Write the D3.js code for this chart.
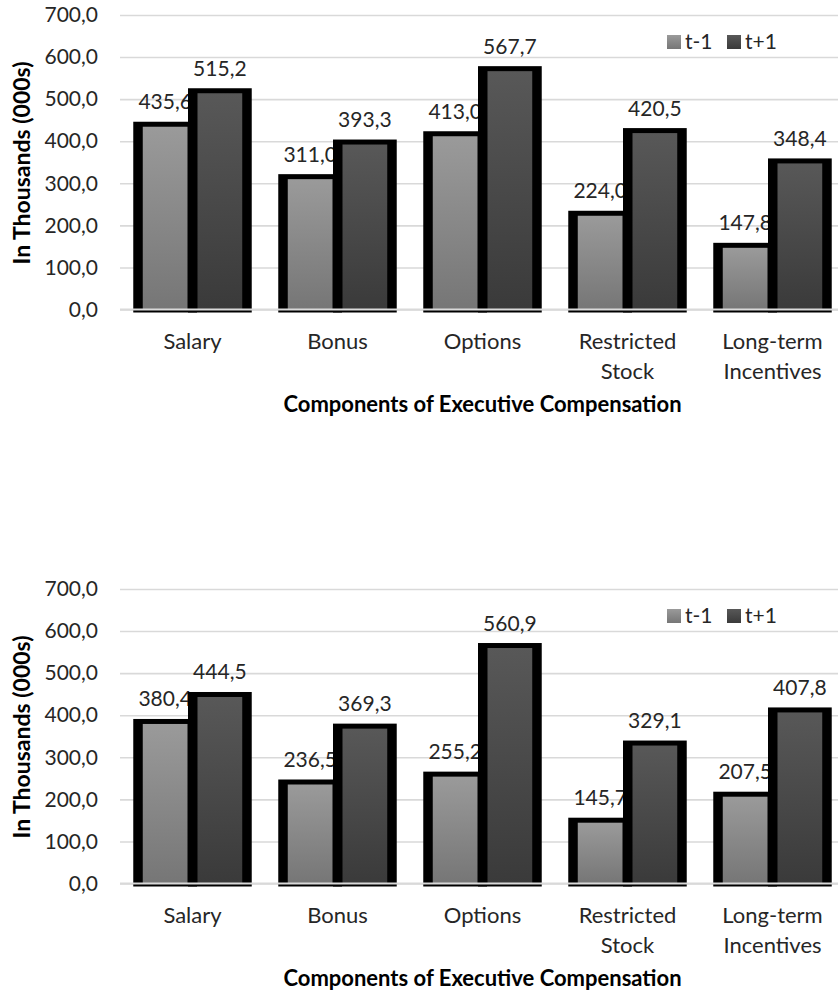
<!DOCTYPE html>
<html>
<head>
<meta charset="utf-8">
<script src="https://cdn.jsdelivr.net/npm/d3@7"></script>
<style>
  html, body { margin: 0; padding: 0; background: #fff; }
  svg { display: block; }
  text { font-family: Lato, "Open Sans", sans-serif; }
</style>
</head>
<body>
<svg id="chart" width="838" height="993"></svg>
<script>
// ---- data ----
const categories = ["Salary", "Bonus", "Options", "Restricted Stock", "Long-term Incentives"];
const categoryLines = [["Salary"], ["Bonus"], ["Options"], ["Restricted", "Stock"], ["Long-term", "Incentives"]];
const seriesNames = ["t-1", "t+1"];
const chart1TMinus1 = [435.6, 311.0, 413.0, 224.0, 147.8];
const chart1TPlus1  = [515.2, 393.3, 567.7, 420.5, 348.4];
const chart2TMinus1 = [380.4, 236.5, 255.2, 145.7, 207.5];
const chart2TPlus1  = [444.5, 369.3, 560.9, 329.1, 407.8];
const yTicks = [0, 100, 200, 300, 400, 500, 600, 700];
const yTitle = "In Thousands (000s)";
const xTitle = "Components of Executive Compensation";

const locale = d3.formatLocale({decimal: ",", thousands: ".", grouping: [3], currency: ["", ""]});
const fmt = locale.format(".1f");

const svg = d3.select("#chart");
const defs = svg.append("defs");
function grad(id, c1, c2) {
  const g = defs.append("linearGradient").attr("id", id).attr("x1", 0).attr("y1", 0).attr("x2", 0).attr("y2", 1);
  g.append("stop").attr("offset", "0%").attr("stop-color", c1);
  g.append("stop").attr("offset", "100%").attr("stop-color", c2);
}
grad("gA", "#9a9a9a", "#767676");
grad("gB", "#585858", "#3a3a3a");
const fills = ["url(#gA)", "url(#gB)"];

const x0 = d3.scaleBand().domain(categories).range([120, 845]).paddingInner(0.245).paddingOuter(0.1225);
const x1 = d3.scaleBand().domain(seriesNames).range([0, x0.bandwidth()]);

function drawChart(off, vA, vB) {
  const g = svg.append("g").attr("transform", `translate(0,${off})`);
  const y = d3.scaleLinear().domain([0, 700]).range([309.5, 15]);
  const y0 = y(0);

  // gridlines + tick labels
  const ax = g.append("g").attr("transform", "translate(120,0)")
    .call(d3.axisLeft(y).tickValues(yTicks).tickFormat(fmt).tickSize(-725).tickPadding(22));
  ax.select(".domain").remove();
  ax.selectAll(".tick line").attr("stroke", "#d9d9d9").attr("stroke-width", 1.6);
  ax.selectAll(".tick text").attr("fill", "#262626").style("font-size", "21px")
    .style("font-family", "Lato, 'Open Sans', sans-serif");

  const series = [vA, vB];
  series.forEach((vals, si) => {
    const s = seriesNames[si];
    const bars = g.append("g");
    categories.forEach((c, i) => {
      const bx = x0(c) + x1(s);
      const bw = x1.bandwidth();
      const top = y(vals[i]);
      bars.append("rect")
        .attr("x", bx - 4.5).attr("y", top - 4.5)
        .attr("width", bw + 9).attr("height", y0 + 3 - (top - 4.5))
        .attr("fill", "#000");
      bars.append("rect")
        .attr("x", bx + 5).attr("y", top + 0.5)
        .attr("width", bw - 10).attr("height", y0 - (top + 0.5))
        .attr("fill", fills[si]);
    });
    g.append("g").selectAll("text").data(vals).join("text")
      .attr("x", (d, i) => x0(categories[i]) + x1(s) + x1.bandwidth() / 2)
      .attr("y", d => y(d) - 17)
      .attr("text-anchor", "middle")
      .attr("fill", "#262626")
      .style("font-size", "21px")
      .text(d => fmt(d));
  });

  // baseline (grey over bars)
  g.append("line").attr("x1", 120).attr("x2", 845).attr("y1", y0).attr("y2", y0)
    .attr("stroke", "#d9d9d9").attr("stroke-width", 2);

  // category labels
  categories.forEach((c, i) => {
    const cx = x0(c) + x0.bandwidth() / 2;
    const t = g.append("text").attr("text-anchor", "middle").attr("fill", "#262626")
      .style("font-size", "22px")
      .attr("x", cx).attr("y", 349);
    categoryLines[i].forEach((ln, k) => {
      t.append("tspan").attr("x", cx).attr("dy", k === 0 ? 0 : 30).text(ln);
    });
  });

  // x title
  g.append("text").attr("x", 482.5).attr("y", 412).attr("text-anchor", "middle")
    .attr("fill", "#000").style("font-size", "22px").style("font-weight", "bold").text(xTitle);

  // y title
  g.append("text").attr("transform", "translate(30,163) rotate(-90)").attr("text-anchor", "middle")
    .attr("fill", "#000").style("font-size", "23px").style("font-weight", "bold").text(yTitle);

  // legend
  const lg = g.append("g");
  const legX = [667, 727];
  seriesNames.forEach((s, si) => {
    lg.append("rect").attr("x", legX[si]).attr("y", 35).attr("width", 14).attr("height", 14).attr("fill", fills[si]);
    lg.append("text").attr("x", legX[si] + 18).attr("y", 49).attr("fill", "#262626")
      .style("font-size", "21px").text(s);
  });
}

drawChart(0, chart1TMinus1, chart1TPlus1);
drawChart(574, chart2TMinus1, chart2TPlus1);
</script>
</body>
</html>
